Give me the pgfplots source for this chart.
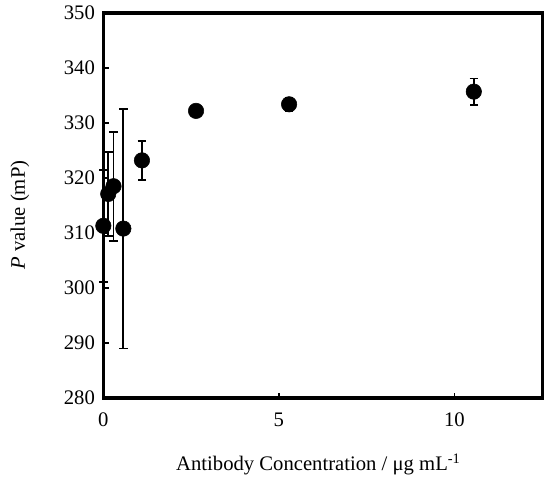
\documentclass[border=0pt]{standalone}
\usepackage{pgfplots}
\pgfplotsset{compat=1.18}
\usepackage{fontspec}
\setmainfont{Liberation Serif}
\begin{document}
\fontsize{15.5}{17}\selectfont
\begin{tikzpicture}
\useasboundingbox (-77.5pt,-62.25pt) rectangle (331.3pt,298.5pt);
\begin{axis}[
    at={(0,0)}, anchor=south west,
    scale only axis,
    width=329.25pt, height=288.75pt,
    xmin=0, xmax=12.5,
    ymin=280, ymax=350,
    xtick={0,5,10},
    ytick={280,290,...,350},
    xtick pos=bottom, ytick pos=left,
    tick align=inside,
    major tick length=4pt,
    tick style={line width=1.3pt, black},
    axis line style={line width=2.4pt},
    /pgf/number format/assume math mode=true,
    ticklabel style={font=\fontsize{15.5}{17}\selectfont},
    xticklabel style={yshift=-6pt},
    yticklabel style={xshift=-1pt},
    xlabel={Antibody Concentration / μg mL\textsuperscript{-1}},
    ylabel={\textit{P} value (mP)},
    xlabel style={at={(axis description cs:0.49,-0.174)}, anchor=center, font=\fontsize{15.5}{17}\selectfont},
    ylabel style={at={(axis description cs:-0.19,0.475)}, anchor=center, rotate=0, font=\fontsize{15.5}{17}\selectfont},
    clip=false,
]
\addplot[
    only marks, mark=*, mark size=5.8pt, black,
    error bars/.cd, y dir=both, y explicit,
    error bar style={line width=1.4pt, black},
    error mark options={rotate=90, mark size=3.2pt, line width=1.4pt, black},
] coordinates {
    (0,311.3)     +- (0,10.2)
    (0.14,317.1)  +- (0,7.7)
    (0.29,318.5)  +- (0,9.9)
    (0.57,310.8)  +- (0,21.8)
    (1.10,323.2)  +- (0,3.6)
    (2.64,332.2)  +- (0,0)
    (5.29,333.4)  +- (0,1.2)
    (10.55,335.7) +- (0,2.4)
};
\end{axis}
\end{tikzpicture}
\end{document}
